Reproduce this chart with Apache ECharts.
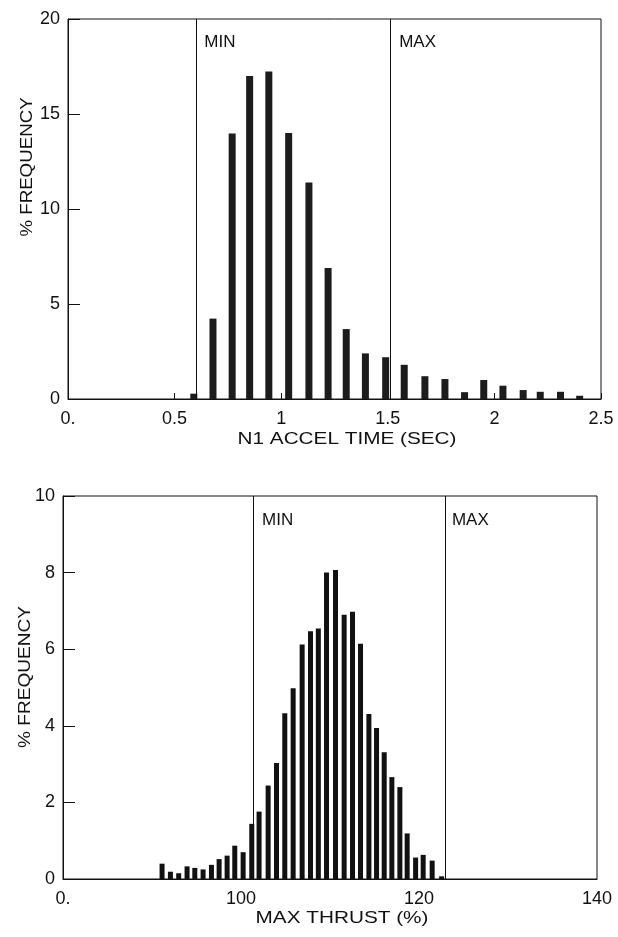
<!DOCTYPE html>
<html>
<head>
<meta charset="utf-8">
<script src="https://cdn.jsdelivr.net/npm/echarts@6/dist/echarts.min.js"></script>
<style>
html,body{margin:0;padding:0;background:#fff;}
#chart{width:618px;height:937px;}
</style>
</head>
<body>
<div id="chart"></div>
<script>
// ---- Top chart: N1 accel time ----
const accelTime = [0.59, 0.68, 0.77, 0.852, 0.942, 1.035, 1.13, 1.22, 1.305, 1.395, 1.49, 1.577, 1.674, 1.768, 1.86, 1.95, 2.04, 2.135, 2.215, 2.31, 2.40];
const accelFreq = [0.28, 4.23, 13.98, 17.0, 17.24, 14.0, 11.4, 6.9, 3.68, 2.4, 2.2, 1.8, 1.2, 1.05, 0.36, 1.0, 0.7, 0.47, 0.38, 0.38, 0.17];
const accelLimits = [0.602, 1.511];
const accelLimitNames = ['MIN', 'MAX'];
const accelXTicks = {0: '0.', 0.5: '0.5', 1: '1', 1.5: '1.5', 2: '2', 2.5: '2.5'};
const accelYTicks = {0: '0', 5: '5', 10: '10', 15: '15', 20: '20'};

// ---- Bottom chart: max thrust ----
const thrust = [91.13, 92.07, 93.0, 93.94, 94.81, 95.74, 96.68, 97.54, 98.44, 99.30, 100.24, 101.21, 102.03, 103.05, 103.99, 104.92, 105.86, 106.87, 107.81, 108.69, 109.61, 110.62, 111.59, 112.53, 113.43, 114.37, 115.23, 116.09, 116.95, 117.85, 118.67, 119.62, 120.47, 121.48, 122.54];
const thrustFreq = [0.40, 0.19, 0.15, 0.33, 0.29, 0.25, 0.37, 0.52, 0.61, 0.87, 0.70, 1.44, 1.76, 2.44, 3.03, 4.33, 4.98, 6.12, 6.47, 6.54, 8.0, 8.07, 6.90, 6.98, 6.14, 4.31, 3.94, 3.31, 2.66, 2.40, 1.19, 0.56, 0.63, 0.48, 0.07];
const thrustLimits = [101.36, 122.91];
const thrustLimitNames = ['MIN', 'MAX'];
const thrustXTicks = {80: '0.', 100: '100', 120: '120', 140: '140'};
const thrustYTicks = {0: '0', 2: '2', 4: '4', 6: '6', 8: '8', 10: '10'};

const FONT = 'Liberation Sans';
const INK = '#111';

function limitLines(vals){
  return {
    symbol: ['none','none'], silent: true,
    lineStyle: {color: INK, width: 1, type: 'solid'},
    label: {show: false},
    data: vals.map(v => ({xAxis: v}))
  };
}
function limitLabels(vals, names, yTop, offs, dy){
  return {
    symbolSize: 0, silent: true,
    data: vals.map((v, i) => ({
      coord: [v, yTop],
      label: {show: true, formatter: names[i], position: [offs[i], dy],
        color: INK, fontFamily: FONT, fontSize: 17}
    }))
  };
}
function xAxisCfg(gi, min, max, interval, ticks, showTick){
  return {
    type: 'value', gridIndex: gi, min: min, max: max, interval: interval,
    axisLine: {show: true, onZero: false, lineStyle: {color: INK, width: 1}},
    axisTick: {show: showTick, inside: true, length: 6, lineStyle: {color: INK}},
    splitLine: {show: false},
    axisLabel: {color: INK, fontFamily: FONT, fontSize: 18, margin: 11,
      formatter: v => ticks[v] !== undefined ? ticks[v] : ''}
  };
}
function yAxisCfg(gi, min, max, interval, ticks){
  return {
    type: 'value', gridIndex: gi, min: min, max: max, interval: interval,
    axisLine: {show: true, lineStyle: {color: INK, width: 1}},
    axisTick: {show: true, inside: true, length: 12, lineStyle: {color: INK}},
    splitLine: {show: false},
    axisLabel: {color: INK, fontFamily: FONT, fontSize: 18, margin: 8,
      formatter: v => ticks[v] !== undefined ? ticks[v] : ''}
  };
}
function title(text, x, y, rot, sx){
  return {type: 'text', x: x, y: y, rotation: rot, scaleX: sx, scaleY: 1,
    style: {text: text, fill: INK, font: '17px "Liberation Sans"', textAlign: 'center', textVerticalAlign: 'middle'}};
}

const chart = echarts.init(document.getElementById('chart'), null, {renderer: 'canvas'});
chart.setOption({
  backgroundColor: '#fff',
  animation: false,
  grid: [
    {left: 68, top: 19, width: 533, height: 380, show: true, borderColor: INK, borderWidth: 1, backgroundColor: 'transparent'},
    {left: 63, top: 496, width: 534, height: 383, show: true, borderColor: INK, borderWidth: 1, backgroundColor: 'transparent'}
  ],
  xAxis: [
    xAxisCfg(0, 0, 2.5, 0.5, accelXTicks, true),
    xAxisCfg(1, 80, 140, 20, thrustXTicks, false)
  ],
  yAxis: [
    yAxisCfg(0, 0, 20, 5, accelYTicks),
    yAxisCfg(1, 0, 10, 2, thrustYTicks)
  ],
  series: [
    {
      type: 'bar', xAxisIndex: 0, yAxisIndex: 0, barWidth: 7,
      itemStyle: {color: '#1c1c1c'},
      data: accelTime.map((x, i) => [x, accelFreq[i]]),
      markLine: limitLines(accelLimits),
      markPoint: limitLabels(accelLimits, accelLimitNames, 20, [8, 9], 15)
    },
    {
      type: 'bar', xAxisIndex: 1, yAxisIndex: 1, barWidth: 5,
      itemStyle: {color: '#111'},
      data: thrust.map((x, i) => [x, thrustFreq[i]]),
      markLine: limitLines(thrustLimits),
      markPoint: limitLabels(thrustLimits, thrustLimitNames, 10, [9, 7], 16)
    }
  ],
  graphic: [
    title('N1 ACCEL TIME (SEC)', 347, 439, 0, 1.22),
    title('MAX THRUST (%)', 342, 918, 0, 1.22),
    title('% FREQUENCY', 27, 167, Math.PI / 2, 1.1),
    title('% FREQUENCY', 25, 677, Math.PI / 2, 1.12)
  ]
});
</script>
</body>
</html>
